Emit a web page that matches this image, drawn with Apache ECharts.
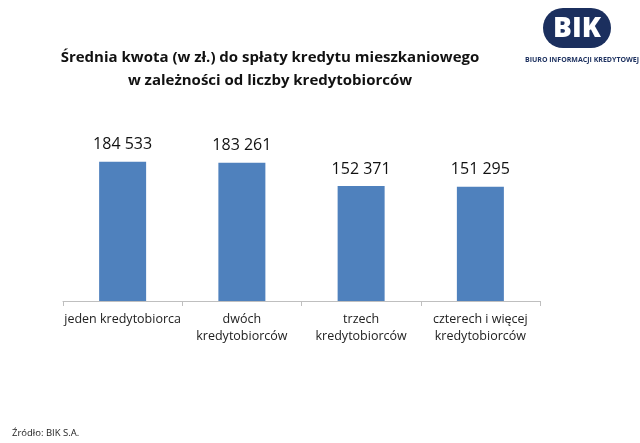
<!DOCTYPE html>
<html><head><meta charset="utf-8">
<script src="https://cdn.jsdelivr.net/npm/echarts@6/dist/echarts.min.js"></script>
<style>html,body{margin:0;padding:0;background:#fff}#c{width:640px;height:443px}</style>
</head><body><div id="c"></div>
<script>
const categories = ['jeden kredytobiorca', 'dwóch\nkredytobiorców', 'trzech\nkredytobiorców', 'czterech i więcej\nkredytobiorców'];
const values = [184533, 183261, 152371, 151295];
const titleLines = ['Średnia kwota (w zł.) do spłaty kredytu mieszkaniowego', 'w zależności od liczby kredytobiorców'];
const sourceText = 'Źródło: BIK S.A.';

const fmt = v => String(v).replace(/\B(?=(\d{3})+(?!\d))/g, ' ');
const FONT = '"Open Sans", "Noto Sans", sans-serif';
const navy = '#1b2f5e';
const chart = echarts.init(document.getElementById('c'));
chart.setOption({
  animation: false,
  title: {
    text: titleLines.join('\n'),
    left: 265, top: 41, textAlign: 'center',
    textStyle: { fontFamily: FONT, fontSize: 15, fontWeight: 'bold', color: '#111', lineHeight: 23 }
  },
  grid: { left: 63, right: 100, top: 150, bottom: 142 },
  xAxis: {
    type: 'category', data: categories,
    axisLine: { lineStyle: { color: '#bfbfbf' } },
    axisTick: { show: true, length: 5, lineStyle: { color: '#bfbfbf' } },
    axisLabel: { fontFamily: FONT, fontSize: 12.5, color: '#222', lineHeight: 17, margin: 10, interval: 0 }
  },
  yAxis: { type: 'value', min: 0, max: 200000, show: false, splitLine: { show: false } },
  series: [{
    type: 'bar', data: values, barWidth: 47,
    itemStyle: { color: '#4f81bd' },
    label: { show: true, position: 'top', distance: 9, formatter: p => fmt(p.value),
      fontFamily: FONT, fontSize: 16, color: '#111' }
  }],
  graphic: [
    { type: 'circle', shape: { cx: 563, cy: 28, r: 20 }, style: { fill: navy } },
    { type: 'circle', shape: { cx: 591, cy: 28, r: 20 }, style: { fill: navy } },
    { type: 'rect', shape: { x: 563, y: 8, width: 28, height: 40 }, style: { fill: navy } },
    { type: 'text', x: 577, y: 29, style: { text: 'BIK', fill: '#fff', font: '900 28px "Open Sans", sans-serif', textAlign: 'center', textVerticalAlign: 'middle' } },
    { type: 'text', x: 582, y: 60, style: { text: 'BIURO INFORMACJI KREDYTOWEJ', fill: navy, font: 'bold 7px "Open Sans", sans-serif', textAlign: 'center', textVerticalAlign: 'middle' } },
    { type: 'text', x: 12, y: 433, style: { text: sourceText, fill: '#222', font: '9.5px "Open Sans", sans-serif', textAlign: 'left', textVerticalAlign: 'middle' } }
  ]
});
</script></body></html>
